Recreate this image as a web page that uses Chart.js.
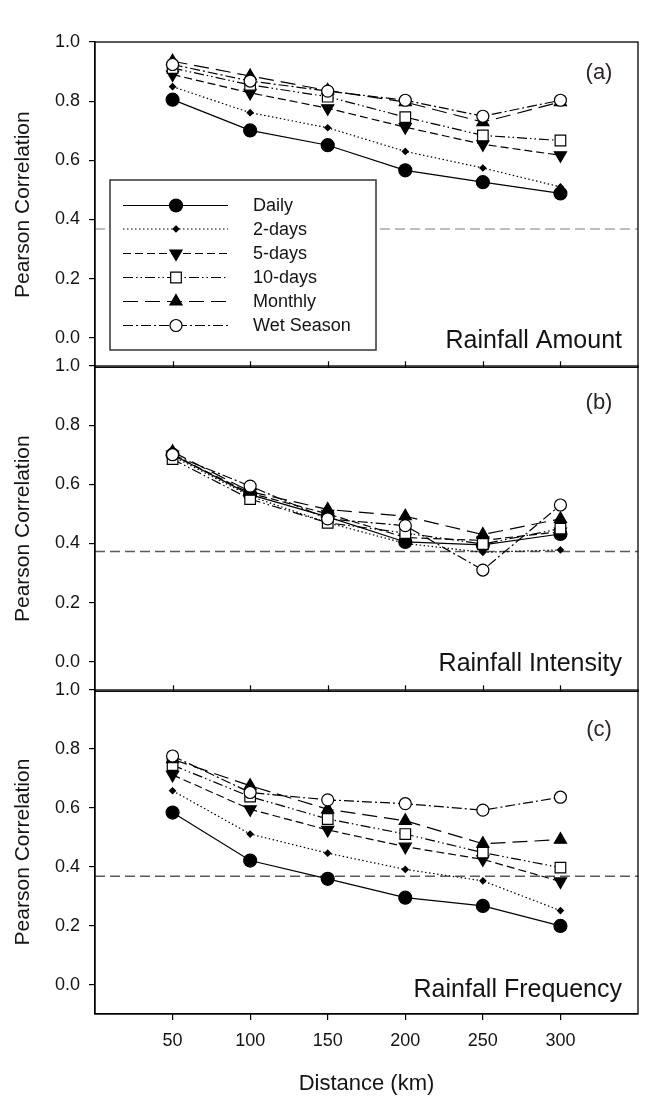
<!DOCTYPE html>
<html><head><meta charset="utf-8">
<script src="https://cdn.jsdelivr.net/npm/chart.js@4/dist/chart.umd.min.js"></script>
<style>
html,body{margin:0;padding:0;background:#fff;}
#wrap{position:relative;width:665px;height:1099px;overflow:hidden;background:#fff;}
.pan{position:absolute;left:0;width:665px;}
canvas{display:block;}
</style></head><body>
<div id="wrap">
<div class="pan" style="top:0px;height:376px"><canvas id="cA" width="665" height="376" style="width:665px;height:376px"></canvas></div>
<div class="pan" style="top:350px;height:350px"><canvas id="cB" width="665" height="350" style="width:665px;height:350px"></canvas></div>
<div class="pan" style="top:674px;height:425px"><canvas id="cC" width="665" height="425" style="width:665px;height:425px"></canvas></div>
</div>
<script>
// ---------- data ----------
const distances = [50, 100, 150, 200, 250, 300];
const xTickLabels = ['50', '100', '150', '200', '250', '300'];
const yTickValues = [0, 0.2, 0.4, 0.6, 0.8, 1.0];
const yTickLabels = ['0.0', '0.2', '0.4', '0.6', '0.8', '1.0'];
const seriesNames = ['Daily', '2-days', '5-days', '10-days', 'Monthly', 'Wet Season'];

// (a) Rainfall Amount
const amountDaily   = [0.805, 0.701, 0.651, 0.566, 0.526, 0.488];
const amount2days   = [0.849, 0.761, 0.710, 0.630, 0.574, 0.510];
const amount5days   = [0.890, 0.828, 0.776, 0.712, 0.654, 0.617];
const amount10days  = [0.912, 0.855, 0.815, 0.746, 0.684, 0.667];
const amountMonthly = [0.935, 0.885, 0.836, 0.797, 0.729, 0.797];
const amountWet     = [0.924, 0.868, 0.834, 0.803, 0.749, 0.803];
const amountRef = 0.368;

// (b) Rainfall Intensity
const intDaily   = [0.700, 0.565, 0.490, 0.405, 0.395, 0.432];
const int2days   = [0.695, 0.560, 0.470, 0.400, 0.370, 0.378];
const int5days   = [0.700, 0.570, 0.500, 0.420, 0.410, 0.440];
const int10days  = [0.685, 0.550, 0.470, 0.435, 0.398, 0.450];
const intMonthly = [0.710, 0.575, 0.515, 0.492, 0.430, 0.483];
const intWet     = [0.700, 0.594, 0.483, 0.460, 0.310, 0.530];
const intRef = 0.373;

// (c) Rainfall Frequency
const freqDaily   = [0.584, 0.421, 0.359, 0.295, 0.267, 0.199];
const freq2days   = [0.658, 0.511, 0.446, 0.391, 0.352, 0.251];
const freq5days   = [0.712, 0.595, 0.525, 0.468, 0.425, 0.350];
const freq10days  = [0.745, 0.638, 0.562, 0.511, 0.448, 0.397];
const freqMonthly = [0.765, 0.675, 0.595, 0.556, 0.478, 0.492];
const freqWet     = [0.776, 0.652, 0.627, 0.614, 0.592, 0.636];
const freqRef = 0.368;

// ---------- styles ----------
const FONT = '"Liberation Sans", Arial, Helvetica, sans-serif';
const TXT = '#141414';
const seriesStyles = [
  {dash: [], pointStyle: 'circle', radius: 6.5, rotation: 0, fill: '#000', order: 5},
  {dash: [1.5, 2.5], pointStyle: 'rectRot', radius: 3, rotation: 0, fill: '#000', order: 4},
  {dash: [8, 4], pointStyle: 'triangle', radius: 7, rotation: 180, fill: '#000', order: 3},
  {dash: [10, 3, 1.5, 3, 1.5, 3], pointStyle: 'rect', radius: 7.5, rotation: 0, fill: '#fff', order: 2},
  {dash: [15, 7], pointStyle: 'triangle', radius: 7, rotation: 0, fill: '#000', order: 1},
  {dash: [10, 3, 2, 3], pointStyle: 'circle', radius: 6, rotation: 0, fill: '#fff', order: 0}
];

function buildDatasets(seriesList, refValue, refColor) {
  const ds = seriesList.map((vals, k) => {
    const s = seriesStyles[k];
    return {
      label: seriesNames[k],
      data: distances.map((d, i) => ({x: d, y: vals[i]})),
      borderColor: '#000',
      borderWidth: 1.2,
      borderDash: s.dash,
      pointStyle: s.pointStyle,
      pointRadius: s.radius,
      pointRotation: s.rotation,
      pointBackgroundColor: s.fill,
      pointBorderColor: '#000',
      pointBorderWidth: 1.2,
      tension: 0,
      fill: false,
      order: s.order
    };
  });
  ds.push({
    label: 'ref',
    data: [{x: 0, y: refValue}, {x: 350, y: refValue}],
    borderColor: refColor,
    borderWidth: 1.5,
    borderDash: [10, 5],
    pointRadius: 0,
    fill: false,
    order: 10
  });
  return ds;
}

function drawMarker(ctx, s, x, y) {
  ctx.save();
  ctx.fillStyle = s.fill;
  ctx.strokeStyle = '#000';
  ctx.lineWidth = 1.2;
  ctx.setLineDash([]);
  ctx.beginPath();
  const r = s.radius;
  if (s.pointStyle === 'circle') {
    ctx.arc(x, y, r, 0, Math.PI * 2);
  } else if (s.pointStyle === 'rect') {
    const h = r * Math.SQRT1_2;
    ctx.rect(x - h, y - h, 2 * h, 2 * h);
  } else if (s.pointStyle === 'rectRot') {
    ctx.moveTo(x, y - r); ctx.lineTo(x + r, y); ctx.lineTo(x, y + r); ctx.lineTo(x - r, y);
  } else if (s.pointStyle === 'triangle') {
    let a = s.rotation * Math.PI / 180;
    for (let k = 0; k < 3; k++) {
      const px = x + Math.sin(a) * r, py = y - Math.cos(a) * r;
      if (k === 0) ctx.moveTo(px, py); else ctx.lineTo(px, py);
      a += 2 * Math.PI / 3;
    }
  }
  ctx.closePath();
  ctx.fill();
  ctx.stroke();
  ctx.restore();
}

const decorPlugin = {
  id: 'decor',
  afterDatasetsDraw(chart, args, opts) {
    const {ctx, chartArea: ca} = chart;
    const xs = chart.scales.x;
    ctx.save();
    // frame
    ctx.strokeStyle = '#000';
    ctx.lineWidth = 1.3;
    ctx.setLineDash([]);
    ctx.strokeRect(ca.left, ca.top, ca.right - ca.left, ca.bottom - ca.top);
    // inward ticks at bottom
    if (opts.innerTicks) {
      ctx.lineWidth = 1.2;
      distances.forEach(d => {
        const px = Math.round(xs.getPixelForValue(d)) + 0.5;
        ctx.beginPath();
        ctx.moveTo(px, ca.bottom);
        ctx.lineTo(px, ca.bottom - 6);
        ctx.stroke();
      });
    }
    // panel letter
    ctx.fillStyle = '#2d2428';
    ctx.font = '22px ' + FONT;
    ctx.textAlign = 'center';
    ctx.textBaseline = 'middle';
    ctx.fillText(opts.letter, 599, ca.top + opts.letterOffset);
    // panel title
    ctx.fillStyle = TXT;
    ctx.font = '25px ' + FONT;
    ctx.textAlign = 'right';
    ctx.fillText(opts.title, ca.right - 16, ca.bottom - opts.titleOffset);
    // legend
    if (opts.legend) {
      const bx = 110, by = 180, bw = 266, bh = 170;
      ctx.fillStyle = '#fff';
      ctx.fillRect(bx, by, bw, bh);
      ctx.strokeStyle = '#333';
      ctx.lineWidth = 1.5;
      ctx.strokeRect(bx, by, bw, bh);
      const rowsY = [205.5, 229, 253.5, 277.5, 301.5, 325.5];
      seriesNames.forEach((name, k) => {
        const s = seriesStyles[k];
        const y = rowsY[k];
        ctx.save();
        ctx.strokeStyle = '#000';
        ctx.lineWidth = 1.2;
        ctx.setLineDash(s.dash);
        ctx.beginPath();
        ctx.moveTo(123, y);
        ctx.lineTo(228, y);
        ctx.stroke();
        ctx.restore();
        drawMarker(ctx, s, 176, y);
        ctx.fillStyle = TXT;
        ctx.font = '18px ' + FONT;
        ctx.textAlign = 'left';
        ctx.textBaseline = 'middle';
        ctx.fillText(name, 253, y + 1);
      });
    }
    ctx.restore();
  }
};

function makeChart(id, datasets, showX, padTop, padBottom, decor) {
  const scales = {
    x: {
      type: 'linear', min: 0, max: 350, display: showX,
      afterBuildTicks: s => { s.ticks = distances.map(v => ({value: v})); },
      afterFit: s => {
        s.height = showX ? 85 : 0;
        s.paddingLeft = 0; s.paddingRight = 0; s.paddingTop = 0; s.paddingBottom = 0;
      },
      ticks: {font: {family: FONT, size: 18}, color: TXT, padding: 10, maxRotation: 0, autoSkip: false,
              callback: (v, i) => xTickLabels[i]},
      grid: {drawOnChartArea: false, drawTicks: true, tickLength: 6, color: '#000', lineWidth: 1.2},
      border: {display: true, color: '#000', width: 1.3},
      title: {display: true, text: 'Distance (km)', font: {family: FONT, size: 22}, color: TXT,
              padding: {top: 0, bottom: 2}}
    },
    y: {
      type: 'linear', min: -0.1, max: 1.0,
      afterBuildTicks: s => { s.ticks = yTickValues.map(v => ({value: v})); },
      afterFit: s => {
        s.width = 95;
        s.paddingLeft = 0; s.paddingRight = 0; s.paddingTop = 0; s.paddingBottom = 0;
      },
      ticks: {font: {family: FONT, size: 18}, color: TXT, padding: 9, callback: (v, i) => yTickLabels[i]},
      grid: {drawOnChartArea: false, drawTicks: true, tickLength: 6, color: '#000', lineWidth: 1.2},
      border: {display: true, color: '#000', width: 1.3},
      title: {display: true, text: 'Pearson Correlation', font: {family: FONT, size: 21}, color: TXT,
              padding: {top: 11, bottom: 0}}
    }
  };
  return new Chart(document.getElementById(id), {
    type: 'line',
    data: {datasets},
    options: {
      responsive: false,
      animation: false,
      devicePixelRatio: 1,
      events: [],
      layout: {padding: {left: 0, right: 27, top: padTop, bottom: padBottom}},
      scales,
      plugins: {legend: {display: false}, tooltip: {enabled: false}, decor}
    },
    plugins: [decorPlugin]
  });
}

makeChart('cA',
  buildDatasets([amountDaily, amount2days, amount5days, amount10days, amountMonthly, amountWet], amountRef, '#a8a8a8'),
  false, 42, 2,
  {innerTicks: true, letter: '(a)', letterOffset: 31, title: 'Rainfall Amount', titleOffset: 26, legend: true});

makeChart('cB',
  buildDatasets([intDaily, int2days, int5days, int10days, intMonthly, intWet], intRef, '#5a5a5a'),
  false, 16, 2,
  {innerTicks: true, letter: '(b)', letterOffset: 37, title: 'Rainfall Intensity', titleOffset: 27, legend: false});

makeChart('cC',
  buildDatasets([freqDaily, freq2days, freq5days, freq10days, freqMonthly, freqWet], freqRef, '#5a5a5a'),
  true, 16, 0,
  {innerTicks: false, letter: '(c)', letterOffset: 40, title: 'Rainfall Frequency', titleOffset: 24, legend: false});
</script>
</body></html>
